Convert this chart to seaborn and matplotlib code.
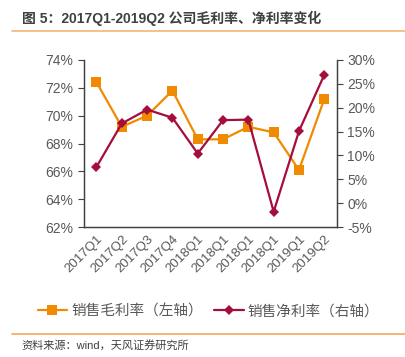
import numpy as np
import pandas as pd
import matplotlib
matplotlib.use("Agg")
import matplotlib.pyplot as plt
import seaborn as sns
from matplotlib.lines import Line2D

quarters = ["2017Q1", "2017Q2", "2017Q3", "2017Q4", "2018Q1",
            "2018Q1", "2018Q1", "2018Q1", "2019Q1", "2019Q2"]
gross_margin = [72.4, 69.2, 70.0, 71.8, 68.3, 68.3, 69.2, 68.8, 66.1, 71.2]
net_margin = [7.6, 16.7, 19.6, 17.9, 10.4, 17.4, 17.5, -1.8, 15.1, 26.9]

sns.set_style("white")
plt.rcParams["font.family"] = ["Liberation Sans", "Noto Sans CJK SC"]

orange = "#F08A00"
crimson = "#A50D3A"
grey = "#595959"

df = pd.DataFrame({"pos": np.arange(len(quarters)),
                   "gross": gross_margin, "net": net_margin})

fig = plt.figure(figsize=(4.05, 3.57), dpi=100)
ax = fig.add_axes([0.207, 0.364, 0.625, 0.468])
ax2 = ax.twinx()

sns.lineplot(data=df, x="pos", y="gross", ax=ax, color=orange, lw=1.6,
             marker="s", markersize=7.5, markeredgewidth=0)
sns.lineplot(data=df, x="pos", y="net", ax=ax2, color=crimson, lw=1.6,
             marker="D", markersize=5.5, markeredgewidth=0)

ax.set_xlim(-0.5, len(quarters) - 0.5)
ax.set_ylim(62, 74)
ax.set_yticks(np.arange(62, 75, 2))
ax.set_yticklabels([f"{v}%" for v in range(62, 75, 2)])
ax2.set_ylim(-5, 30)
ax2.set_yticks(np.arange(-5, 31, 5))
ax2.set_yticklabels([f"{v}%" for v in range(-5, 31, 5)])

ax.set_xticks(np.arange(-0.5, len(quarters), 1.0))
ax.set_xticklabels([])
ax.set_xticks(np.arange(len(quarters)), minor=True)
ax.set_xticklabels(quarters, minor=True, rotation=45, ha="right",
                   rotation_mode="anchor", color=grey, fontsize=9.5)
ax.tick_params(axis="x", which="minor", length=0, pad=4)
ax.tick_params(axis="x", which="major", length=4, color="#404040", direction="out")
ax.tick_params(axis="y", length=4, color="#404040", labelcolor=grey, labelsize=10)
ax2.tick_params(axis="y", length=4, color="#404040", labelcolor=grey, labelsize=10)
ax.set_xlabel("")
ax.set_ylabel("")
ax2.set_ylabel("")

for a in (ax, ax2):
    a.spines["top"].set_visible(False)
    for s in ("left", "right", "bottom"):
        a.spines[s].set_color("#404040")
        a.spines[s].set_linewidth(0.9)

handles = [
    Line2D([], [], color=orange, lw=1.6, marker="s", markersize=7.5, markeredgewidth=0),
    Line2D([], [], color=crimson, lw=1.6, marker="D", markersize=5.5, markeredgewidth=0),
]
fig.legend(handles, ["销售毛利率（左轴）", "销售净利率（右轴）"], loc="center",
           bbox_to_anchor=(0.515, 0.128), ncol=2, frameon=False, fontsize=10.5,
           handlelength=2.0, columnspacing=0.8, handletextpad=0.3,
           labelcolor=grey)

fig.text(0.054, 0.948, "图 5：2017Q1-2019Q2 公司毛利率、净利率变化",
         fontsize=10, fontweight="bold", color="#404040", va="center")
fig.add_artist(Line2D([0.03, 1.0], [0.913, 0.913], color="#F5B47A", lw=1.2))
fig.add_artist(Line2D([0.03, 1.0], [0.064, 0.064], color="#F5A860", lw=1.2))
fig.text(0.054, 0.032, "资料来源：wind，天风证券研究所", fontsize=8,
         color="#404040", va="center")

fig.savefig("out.png", dpi=100)
